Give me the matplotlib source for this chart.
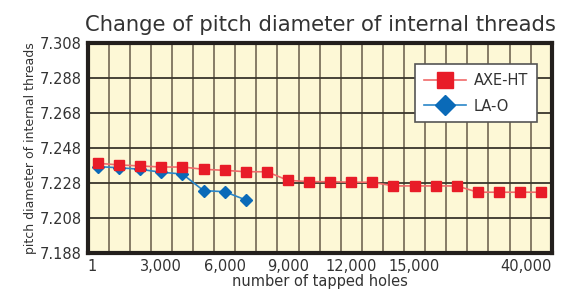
import matplotlib
matplotlib.use("Agg")
import matplotlib.pyplot as plt

# number of tapped holes, one slot per grid cell
slots = list(range(22))
tick_slots = [0, 3, 6, 9, 12, 15, 21]
tick_labels = ["1", "3,000", "6,000", "9,000", "12,000", "15,000", "40,000"]

axe_ht = [7.2394, 7.2385, 7.2379, 7.2373, 7.2373, 7.2360, 7.2354, 7.2346,
          7.2346, 7.2297, 7.2289, 7.2289, 7.2286, 7.2286, 7.2265, 7.2265,
          7.2265, 7.2265, 7.2229, 7.2229, 7.2229, 7.2229]
la_o = [7.2375, 7.2369, 7.2360, 7.2343, 7.2333, 7.2238, 7.2232, 7.2185]

y_ticks = [7.188, 7.208, 7.228, 7.248, 7.268, 7.288, 7.308]

text_color = "#333333"

fig = plt.figure(figsize=(5.62, 2.91), dpi=100)
ax = fig.add_axes([0.1557, 0.1296, 0.8260, 0.7216])
ax.set_facecolor("#fdf8d6")

x_red = [s + 0.5 for s in slots]
x_blue = [s + 0.5 for s in slots[:len(la_o)]]

ax.plot(x_blue, la_o, color="#2a86c8", lw=1.2, marker="D", ms=6.5,
        mfc="#0a6ab8", mec="#0a6ab8", label="LA-O", zorder=3)
ax.plot(x_red, axe_ht, color="#f06a6a", lw=1.2, marker="s", ms=7.5,
        mfc="#e81c28", mec="#e81c28", label="AXE-HT", zorder=4)

ax.set_xlim(0, 22)
ax.set_ylim(7.188, 7.308)

# grid: vertical at every cell boundary, horizontal at each y tick
for v in range(1, 22):
    ax.axvline(v, color="#7d725e", lw=1.3, zorder=1)
for h in y_ticks[1:-1]:
    ax.axhline(h, color="#3a362c", lw=1.3, zorder=1)

ax.set_yticks(y_ticks)
ax.set_yticklabels([f"{t:.3f}" for t in y_ticks])
tick_pos = [0 if s == 0 else (22 if s == 21 else s + 0.5) for s in tick_slots]
ax.set_xticks(tick_pos)
ax.set_xticklabels(tick_labels)
xl = ax.get_xticklabels()
xl[0].set_ha("left")
xl[-1].set_ha("right")
ax.tick_params(length=0, labelsize=10.5, colors=text_color, pad=4)

for sp in ax.spines.values():
    sp.set_linewidth(3)
    sp.set_color("#231f1c")

ax.set_xlabel("number of tapped holes", fontsize=10.5, color=text_color,
              labelpad=0)
ax.set_ylabel("pitch diameter of internal threads", fontsize=9,
              color=text_color, labelpad=2)

fig.text(0.570, 0.915, "Change of pitch diameter of internal threads",
         ha="center", va="center", fontsize=15.2, color=text_color)

handles, labels = ax.get_legend_handles_labels()
leg = ax.legend(handles[::-1], labels[::-1], loc="upper right",
                bbox_to_anchor=(0.968, 0.902), borderaxespad=0,
                fontsize=10.5, frameon=True, fancybox=False,
                edgecolor="#555555", framealpha=1, markerscale=1.5,
                handlelength=2.9, borderpad=0.6, labelspacing=0.75,
                handletextpad=0.5)
leg.get_frame().set_linewidth(1.2)
for t in leg.get_texts():
    t.set_color(text_color)

fig.savefig("out.png", dpi=100, facecolor="white")
